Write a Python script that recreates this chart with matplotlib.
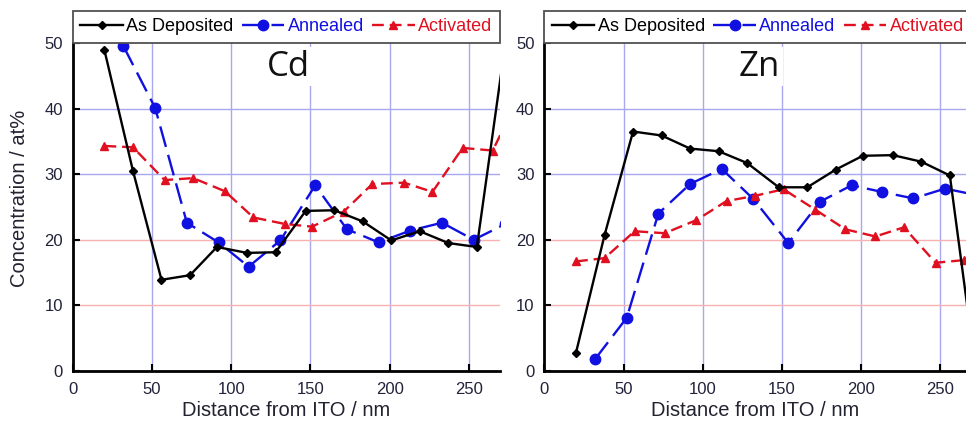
import matplotlib
matplotlib.use("Agg")
from matplotlib import pyplot as plt
from matplotlib.lines import Line2D

# Cd profile (at%) vs distance from ITO (nm)
cd_dep_x = [20, 38, 56, 74, 91, 110, 128, 147, 165, 183, 201, 219, 237, 255, 273]
cd_dep_y = [48.9, 30.5, 13.9, 14.6, 18.9, 18.0, 18.1, 24.4, 24.5, 22.8, 19.9, 21.3, 19.5, 18.9, 50.0]
cd_ann_x = [32, 52, 72, 92, 111, 131, 153, 173, 193, 213, 233, 253, 273]
cd_ann_y = [49.5, 40.1, 22.6, 19.6, 15.9, 19.9, 28.3, 21.6, 19.6, 21.4, 22.6, 20.0, 22.4]
cd_act_x = [20, 38, 58, 76, 96, 114, 134, 151, 171, 189, 209, 227, 246, 265, 284]
cd_act_y = [34.3, 34.1, 29.1, 29.4, 27.4, 23.4, 22.4, 22.0, 24.3, 28.5, 28.7, 27.3, 34.0, 33.6, 43.0]

# Zn profile
zn_dep_x = [20, 38, 56, 74, 92, 110, 128, 148, 166, 184, 201, 220, 238, 256, 272]
zn_dep_y = [2.8, 20.7, 36.5, 35.9, 33.9, 33.5, 31.7, 28.0, 28.0, 30.7, 32.8, 32.9, 31.9, 29.8, 0.8]
zn_ann_x = [32, 52, 72, 92, 112, 132, 154, 174, 194, 213, 233, 253, 273]
zn_ann_y = [1.8, 8.1, 24.0, 28.5, 30.8, 26.2, 19.5, 25.8, 28.3, 27.3, 26.3, 27.8, 26.8]
zn_act_x = [20, 38, 57, 76, 96, 115, 133, 151, 171, 190, 209, 227, 247, 265]
zn_act_y = [16.7, 17.2, 21.3, 21.0, 23.0, 25.9, 26.7, 27.7, 24.6, 21.6, 20.5, 21.9, 16.5, 16.9]

x_ticks = [0, 50, 100, 150, 200, 250]
y_ticks = [0, 10, 20, 30, 40, 50]
labels = ["As Deposited", "Annealed", "Activated"]
colors = ["black", "#1010e0", "#e01020"]

plt.rcParams["font.family"] = ["Liberation Sans", "DejaVu Sans"]
tick_col = "#22223a"

fig = plt.figure(figsize=(9.66, 4.22), dpi=100)
ax_cd = fig.add_axes([0.0753, 0.1209, 0.4423, 0.7773])
ax_zn = fig.add_axes([0.5635, 0.1209, 0.4365, 0.7773])


def panel(ax, element, xmax, dep, ann, act):
    ax.set_xlim(0, xmax)
    ax.set_ylim(0, 50)

    # light grid: blue verticals, blue above 20, red at 10 and 20
    for xv in x_ticks[1:]:
        ax.axvline(xv, color="#a8a8f0", lw=1, zorder=0)
    for yv in (30, 40):
        ax.axhline(yv, color="#a8a8f0", lw=1, zorder=0)
    for yv in (10, 20):
        ax.axhline(yv, color="#f8b0b0", lw=1, zorder=0)

    ax.plot(dep[0], dep[1], color=colors[0], lw=1.7, marker="D", ms=4.5, zorder=3)
    ax.plot(ann[0], ann[1], color=colors[1], lw=1.7, marker="o", ms=7.5,
            dashes=(9, 3.5), zorder=2)
    ax.plot(act[0], act[1], color=colors[2], lw=1.7, marker="^", ms=6,
            dashes=(5, 2.5), zorder=2)

    ax.spines["top"].set_visible(False)
    ax.spines["right"].set_visible(False)
    ax.spines["left"].set_linewidth(2)
    ax.spines["bottom"].set_linewidth(2)
    ax.set_xticks(x_ticks)
    ax.set_yticks(y_ticks)
    ax.tick_params(direction="in", length=5, width=1.5, labelsize=12,
                   labelcolor=tick_col)
    ax.tick_params(axis="x", pad=8)
    ax.tick_params(axis="y", pad=7)
    ax.set_xlabel("Distance from ITO / nm", fontsize=14.5, color="#222230", labelpad=3)

    ax.text(136, 46.4, element, fontsize=25, family="Open Sans", ha="center",
            va="center", color="#111111", zorder=4,
            bbox=dict(facecolor="white", edgecolor="none", pad=2))

    handles = [
        Line2D([], [], color=colors[0], lw=1.7, marker="D", ms=4.5),
        Line2D([], [], color=colors[1], lw=1.7, marker="o", ms=7.5, dashes=(9, 3.5)),
        Line2D([], [], color=colors[2], lw=1.7, marker="^", ms=6, dashes=(5, 2.5)),
    ]
    leg = ax.legend(handles, labels, loc="lower left", bbox_to_anchor=(0, 1),
                    ncol=3, borderaxespad=0, fontsize=13, handlelength=2.35,
                    handletextpad=0.2, columnspacing=0.45, borderpad=0.42,
                    fancybox=False, framealpha=1, edgecolor="#505050")
    leg.get_frame().set_linewidth(1.3)
    for txt, c in zip(leg.get_texts(), colors):
        txt.set_color(c)


panel(ax_cd, "Cd", 269.6, (cd_dep_x, cd_dep_y), (cd_ann_x, cd_ann_y), (cd_act_x, cd_act_y))
panel(ax_zn, "Zn", 266.2, (zn_dep_x, zn_dep_y), (zn_ann_x, zn_ann_y), (zn_act_x, zn_act_y))

ax_cd.set_ylabel("Concentration / at%", fontsize=14.5, color="#222230")
ax_cd.yaxis.set_label_coords(-0.102, 0.527)

fig.savefig("out.png", dpi=100)
